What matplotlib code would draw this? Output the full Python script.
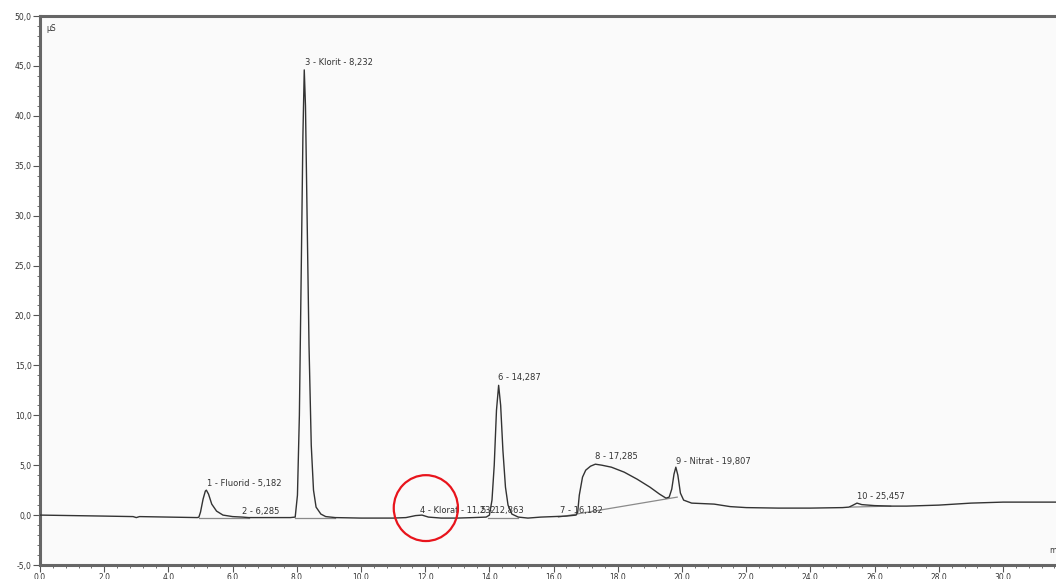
import numpy as np
import matplotlib.pyplot as plt
from matplotlib.patches import Ellipse
from matplotlib.ticker import MultipleLocator, FuncFormatter

# retention time (min) and conductivity (uS)
time = [0.0, 1.0, 2.0, 2.9, 3.0, 3.1, 4.0, 4.9,
        4.95, 5.0, 5.08, 5.15, 5.182, 5.25, 5.35, 5.5, 5.7, 6.0, 6.3, 6.5, 7.0, 7.8,
        7.95, 8.02, 8.08, 8.14, 8.19, 8.232, 8.27, 8.32, 8.38, 8.45, 8.52, 8.6, 8.75, 8.9,
        9.2, 10.0, 11.0, 11.4, 11.7, 11.9, 12.1, 12.5, 13.0, 13.5, 13.9,
        14.0, 14.08, 14.15, 14.22, 14.287, 14.35, 14.42, 14.5, 14.58, 14.7, 14.9,
        15.2, 15.6, 16.0, 16.4, 16.7,
        16.75, 16.8, 16.9, 17.0, 17.15, 17.3, 17.5, 17.8, 18.2, 18.6, 19.0, 19.3, 19.5, 19.6,
        19.68, 19.75, 19.807, 19.87, 19.95, 20.05, 20.3, 21.0, 21.5, 22.0, 23.0, 24.0, 25.0, 25.2,
        25.3, 25.45, 25.6, 26.0, 26.5, 27.0, 27.5, 28.0, 28.5, 29.0, 30.0, 31.0, 31.7]
signal = [0.0, -0.05, -0.1, -0.15, -0.25, -0.15, -0.2, -0.25,
          -0.2, 0.3, 1.6, 2.4, 2.5, 2.1, 1.1, 0.4, 0.0, -0.15, -0.2, -0.25, -0.25, -0.25,
          -0.2, 2.0, 10.0, 25.0, 38.0, 44.6, 41.0, 30.0, 17.0, 7.0, 2.5, 0.8, 0.1, -0.15,
          -0.25, -0.3, -0.3, -0.25, -0.05, 0.0, -0.2, -0.3, -0.3, -0.25, -0.2,
          0.0, 1.5, 5.0, 10.5, 13.0, 11.0, 6.5, 2.8, 1.0, 0.1, -0.2,
          -0.3, -0.2, -0.15, -0.1, 0.0,
          0.3, 2.0, 3.8, 4.5, 4.9, 5.1, 5.0, 4.8, 4.3, 3.6, 2.8, 2.1, 1.7, 1.8,
          2.6, 4.1, 4.8, 4.0, 2.2, 1.5, 1.2, 1.1, 0.85, 0.75, 0.7, 0.7, 0.75, 0.8,
          0.95, 1.2, 1.05, 0.95, 0.9, 0.9, 0.95, 1.0, 1.1, 1.2, 1.3, 1.3, 1.3]

# integration baselines (start time, start value, end time, end value)
base_t0 = [4.95, 7.95, 13.95, 16.15, 25.25]
base_v0 = [-0.25, -0.25, -0.25, -0.2, 0.8]
base_t1 = [6.5, 9.2, 14.9, 19.85, 26.5]
base_v1 = [-0.25, -0.25, -0.25, 1.8, 0.9]

peak_labels = ["1 - Fluorid - 5,182", "2 - 6,285", "3 - Klorit - 8,232",
               "4 - Klorat - 11,232", "5 - 12,863", "6 - 14,287", "7 - 16,182",
               "8 - 17,285", "9 - Nitrat - 19,807", "10 - 25,457"]
label_t = [5.2, 6.3, 8.25, 11.85, 13.75, 14.27, 16.2, 17.3, 19.82, 25.45]
label_v = [2.7, -0.05, 44.9, 0.05, 0.05, 13.3, 0.05, 5.4, 4.9, 1.4]

fig = plt.figure(figsize=(10.56, 5.79), dpi=100)
ax = fig.add_axes([40 / 1056, 14 / 579, 1 - 40 / 1056, 549 / 579])
ax.set_facecolor('#fafafa')

ax.plot(time, signal, color='#333333', lw=1.0, zorder=3)
for i in range(len(base_t0)):
    ax.plot([base_t0[i], base_t1[i]], [base_v0[i], base_v1[i]],
            color='#8a8a8a', lw=0.9, zorder=2)

for txt, t, v in zip(peak_labels, label_t, label_v):
    ax.text(t, v, txt, fontsize=6, color='#333333', ha='left', va='bottom')

ax.add_patch(Ellipse((12.02, 0.7), 2.0, 6.6, fill=False, ec='#e8141c', lw=1.6, zorder=5))

ax.set_xlim(0, 31.65)
ax.set_ylim(-5, 50)
ax.xaxis.set_major_locator(MultipleLocator(2))
ax.xaxis.set_minor_locator(MultipleLocator(0.4))
ax.yaxis.set_major_locator(MultipleLocator(5))
ax.yaxis.set_minor_locator(MultipleLocator(1))
fmt = FuncFormatter(lambda x, p: ('%.1f' % x).replace('.', ','))
ax.xaxis.set_major_formatter(fmt)
ax.yaxis.set_major_formatter(fmt)
ax.tick_params(which='major', direction='out', length=5, width=0.8,
               labelsize=5.5, labelcolor='#333333', color='#555555', pad=1)
ax.tick_params(which='minor', direction='out', length=2.5, width=0.6, color='#555555')

for s in ['left', 'bottom', 'top']:
    ax.spines[s].set_linewidth(2.2)
    ax.spines[s].set_color('#666666')
ax.spines['right'].set_visible(False)

ax.text(0.006, 0.985, 'µS', transform=ax.transAxes, fontsize=5.5,
        color='#333333', va='top')
fig.text(1049 / 1056, 26 / 579, 'min', fontsize=5.5, color='#333333')

fig.savefig('out.png', dpi=100)
